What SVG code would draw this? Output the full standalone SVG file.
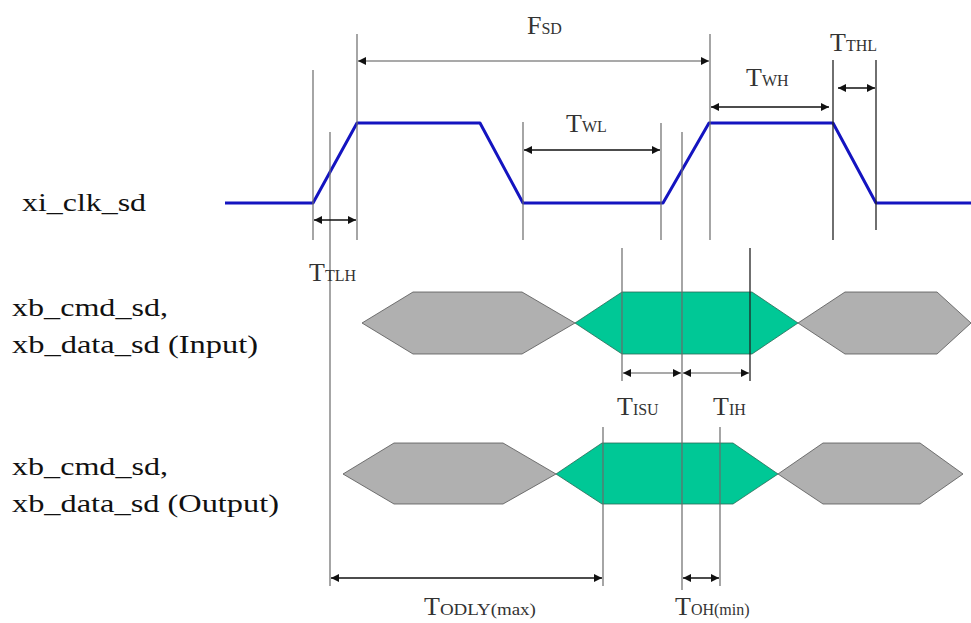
<svg xmlns="http://www.w3.org/2000/svg" width="971" height="623" viewBox="0 0 971 623">
<defs>
<style>
.lbl{font-family:"Liberation Serif","Times New Roman",serif;fill:#111;}
.sig{font-size:25px;}
.big{font-size:26px;fill:#333;}
.sub{font-size:16px;fill:#333;}
.guide{stroke:#6a6a6a;stroke-width:1.2;fill:none;}
.guideD{stroke:#222;stroke-width:1.3;fill:none;}
.dim{stroke:#111;stroke-width:1.3;fill:none;marker-start:url(#ah);marker-end:url(#ah);}
.dimG{stroke:#555;stroke-width:1.2;fill:none;marker-start:url(#ah);marker-end:url(#ah);}
.clk{stroke:#1414c0;stroke-width:3;fill:none;stroke-linejoin:round;}
.gray{fill:#b0b0b0;stroke:#555;stroke-width:0.8;}
.green{fill:#00c896;stroke:#2a6a55;stroke-width:0.8;}
</style>
<marker id="ah" viewBox="0 0 10 10" refX="10" refY="5" markerWidth="10" markerHeight="8" markerUnits="userSpaceOnUse" orient="auto-start-reverse">
<path d="M0,0 L10,5 L0,10 z" fill="#111"/>
</marker>
</defs>
<rect width="971" height="623" fill="#fff"/>

<g id="labels">
<text class="lbl sig" x="22" y="211" textLength="124" lengthAdjust="spacingAndGlyphs">xi_clk_sd</text>
<text class="lbl sig" x="12" y="316" textLength="156" lengthAdjust="spacingAndGlyphs">xb_cmd_sd,</text>
<text class="lbl sig" x="12" y="353" textLength="246" lengthAdjust="spacingAndGlyphs">xb_data_sd (Input)</text>
<text class="lbl sig" x="12" y="475" textLength="156" lengthAdjust="spacingAndGlyphs">xb_cmd_sd,</text>
<text class="lbl sig" x="12" y="512" textLength="267" lengthAdjust="spacingAndGlyphs">xb_data_sd (Output)</text>
</g>

<g id="clock">
<polyline class="clk" points="225,203 313,203 357,123 480,123 523,203 663,203 709,123 833,123 876,203 971,203"/>
</g>

<g id="data-input">
<polygon class="gray" points="362,323 413,292 522,292 575,323 522,354 413,354"/>
<polygon class="green" points="575,323 622,292 752,292 798,323 752,354 622,354"/>
<polygon class="gray" points="798,323 845,292 937,292 971,323 937,354 845,354"/>
</g>

<g id="data-output">
<polygon class="gray" points="343,474 394,443 503,443 556,474 503,504 394,504"/>
<polygon class="green" points="556,474 602,443 733,443 778,474 733,504 602,504"/>
<polygon class="gray" points="778,474 823,443 920,443 963,474 920,504 823,504"/>
</g>

<g id="guides">
<line class="guide" x1="313" y1="70" x2="313" y2="240"/>
<line class="guide" x1="330" y1="132" x2="330" y2="586"/>
<line class="guide" x1="357" y1="34" x2="357" y2="240"/>
<line class="guide" x1="523" y1="122" x2="523" y2="240"/>
<line class="guide" x1="661" y1="123" x2="661" y2="240"/>
<line class="guide" x1="682" y1="132" x2="682" y2="590"/>
<line class="guide" x1="710" y1="34" x2="710" y2="240"/>
<line class="guideD" x1="833" y1="60" x2="833" y2="240"/>
<line class="guideD" x1="876" y1="60" x2="876" y2="230"/>
<line class="guide" x1="622" y1="248" x2="622" y2="381"/>
<line class="guideD" x1="750" y1="248" x2="750" y2="381"/>
<line class="guide" x1="603" y1="427" x2="603" y2="586"/>
<line class="guide" x1="720" y1="427" x2="720" y2="586"/>
</g>

<g id="connectors">
<line class="dimG" x1="358" y1="61" x2="709" y2="61"/>
<line class="dim" x1="524" y1="150" x2="660" y2="150"/>
<line class="dim" x1="711" y1="107" x2="829" y2="107"/>
<line class="dim" x1="838" y1="88" x2="875" y2="88"/>
<line class="dim" x1="314" y1="220" x2="356" y2="220"/>
<line class="dimG" x1="623" y1="373" x2="681" y2="373"/>
<line class="dimG" x1="683" y1="373" x2="749" y2="373"/>
<line class="dim" x1="331" y1="578" x2="602" y2="578"/>
<line class="dim" x1="683" y1="578" x2="719" y2="578"/>
</g>

<g id="timing-labels">
<text class="lbl" x="527" y="34"><tspan class="big">F</tspan><tspan class="sub">SD</tspan></text>
<text class="lbl" x="566" y="132"><tspan class="big">T</tspan><tspan class="sub">WL</tspan></text>
<text class="lbl" x="746" y="86"><tspan class="big">T</tspan><tspan class="sub">WH</tspan></text>
<text class="lbl" x="830" y="51"><tspan class="big">T</tspan><tspan class="sub">THL</tspan></text>
<text class="lbl" x="309" y="281"><tspan class="big">T</tspan><tspan class="sub">TLH</tspan></text>
<text class="lbl" x="617" y="415"><tspan class="big">T</tspan><tspan class="sub">ISU</tspan></text>
<text class="lbl" x="713" y="415"><tspan class="big">T</tspan><tspan class="sub">IH</tspan></text>
<text class="lbl" x="424" y="615"><tspan class="big">T</tspan><tspan class="sub" textLength="96" lengthAdjust="spacingAndGlyphs">ODLY(max)</tspan></text>
<text class="lbl" x="675" y="615"><tspan class="big">T</tspan><tspan class="sub">OH(min)</tspan></text>
</g>
</svg>
